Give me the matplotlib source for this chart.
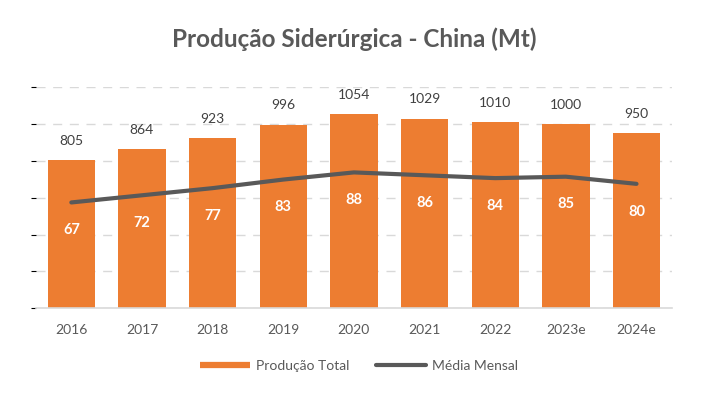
import matplotlib.pyplot as plt
from matplotlib.lines import Line2D

plt.rcParams['font.family'] = ['Lato', 'DejaVu Sans']

# data
anos = ['2016', '2017', '2018', '2019', '2020', '2021', '2022', '2023e', '2024e']
producao_total = [805, 864, 923, 996, 1054, 1029, 1010, 1000, 950]
media_mensal = [67, 72, 77, 83, 88, 86, 84, 85, 80]

laranja = '#ED7D31'
cinza = '#595959'
grade = '#D9D9D9'

fig = plt.figure(figsize=(7.02, 3.95), dpi=100)
ax = fig.add_axes([0.0513, 0.2195, 0.9057, 0.5595])
x = list(range(len(anos)))

ax.bar(x, producao_total, width=0.67, color=laranja, zorder=2)
ax.set_xlim(-0.5, len(anos) - 0.5)
ax.set_ylim(0, 1200)
ax.set_yticks(range(0, 1201, 200))
ax.yaxis.grid(True, linestyle=(0, (6.5, 5.5)), color=grade, linewidth=1, zorder=0)
ax.set_axisbelow(True)
ax.tick_params(axis='y', left=False, labelleft=False)
ax.tick_params(axis='x', bottom=False, labelsize=10, labelcolor=cinza, pad=8)
ax.set_xticks(x)
ax.set_xticklabels(anos)
for s in ['top', 'right', 'left']:
    ax.spines[s].set_visible(False)
ax.spines['bottom'].set_color(grade)
ax.spines['bottom'].set_linewidth(1.2)

for xi, v in zip(x, producao_total):
    ax.annotate(str(v), (xi, v), xytext=(0, 14), textcoords='offset points',
                ha='center', va='center', fontsize=10, color='#404040')

# media mensal on secondary axis
ax2 = ax.twinx()
ax2.set_ylim(-7, 147.5)
ax2.plot(x, media_mensal, color=cinza, linewidth=3, solid_capstyle='round', zorder=3)
ax2.axis('off')
for xi, v in zip(x, media_mensal):
    ax2.annotate(str(v), (xi, v), xytext=(0, -20), textcoords='offset points',
                 ha='center', va='center', fontsize=10.5, fontweight='bold', color='white')

fig.text(0.505, 0.902, 'Produção Siderúrgica - China (Mt)', ha='center', va='center',
         fontsize=17.5, fontweight='bold', color=cinza)

handles = [Line2D([], [], color=laranja, linewidth=4.5, solid_capstyle='butt'),
           Line2D([], [], color=cinza, linewidth=3, solid_capstyle='round')]
fig.legend(handles, ['Produção Total', 'Média Mensal'], loc='center',
           bbox_to_anchor=(0.511, 0.073), ncol=2, frameon=False, fontsize=10,
           handlelength=3.6, handletextpad=0.45, columnspacing=1.9, labelcolor=cinza)

fig.savefig('out.png', dpi=100)
